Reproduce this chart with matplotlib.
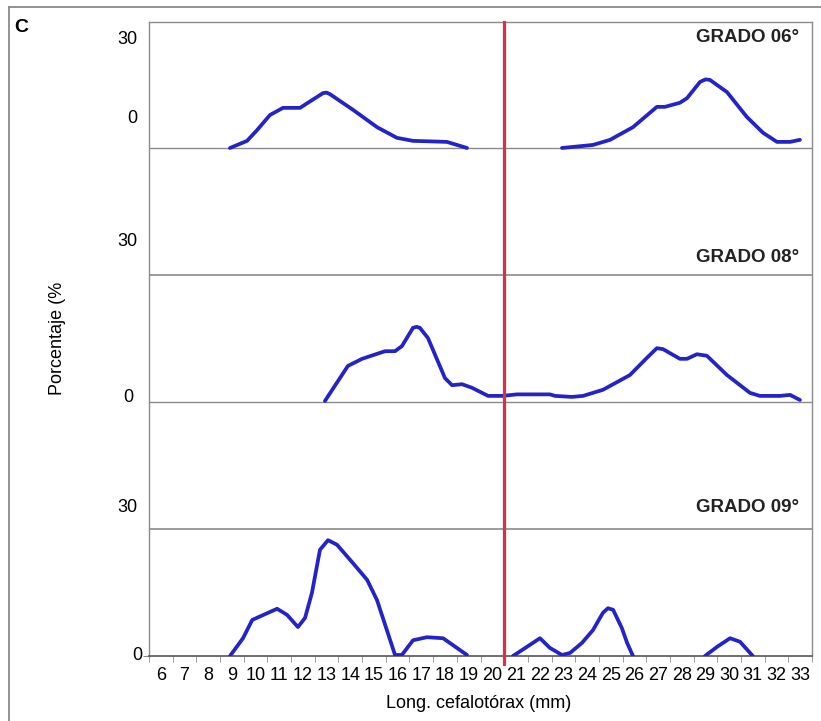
import matplotlib
matplotlib.use('Agg')
import matplotlib.pyplot as plt
import numpy as np

plt.rcParams['font.family'] = ['Liberation Sans', 'DejaVu Sans']

# datos (long. cefalotorax mm, porcentaje %)
nan = np.nan
g06_x = [8.92, 9.64, 10.06, 10.61, 11.16, 11.88, 12.21, 12.85, 13.0, 13.14, 14.12, 15.13, 15.97, 16.65, 17.4, 18.08, 18.93,
         nan,
         22.94, 24.25, 24.97, 25.94, 26.95, 27.29, 27.92, 28.22, 28.77, 29.0, 29.19, 29.91, 30.75, 31.43, 32.02, 32.57, 32.99]
g06_y = [0, 1.4, 3.5, 6.5, 7.9, 7.9, 8.9, 10.8, 10.9, 10.6, 7.5, 4.1, 2.0, 1.4, 1.3, 1.2, 0,
         nan,
         0, 0.6, 1.6, 4.1, 8.1, 8.1, 8.9, 9.8, 13.0, 13.5, 13.4, 11.0, 6.1, 3.0, 1.2, 1.2, 1.6]

g08_x = [12.93, 13.9, 14.5, 15.47, 15.89, 16.18, 16.65, 16.8, 16.94, 17.28, 18.0, 18.3, 18.72, 19.14, 19.82, 20.41,
         21.04, 21.67, 22.43, 22.65, 23.36, 23.83, 24.67, 25.81, 26.53, 26.95, 27.21, 27.92, 28.22, 28.64, 29.06,
         29.91, 30.88, 31.3, 32.15, 32.57, 32.99]
g08_y = [0.2, 7.1, 8.5, 10.0, 10.0, 11.0, 14.6, 14.8, 14.6, 12.6, 4.7, 3.3, 3.5, 2.8, 1.2, 1.2,
         1.5, 1.5, 1.5, 1.2, 1.0, 1.2, 2.4, 5.3, 8.7, 10.6, 10.4, 8.5, 8.5, 9.4, 9.1,
         5.3, 1.8, 1.2, 1.2, 1.4, 0.4]

g09_x = [8.92, 9.47, 9.86, 10.91, 11.33, 11.79, 12.09, 12.38, 12.72, 13.06, 13.44, 14.11, 14.71, 15.13, 15.89,
         16.18, 16.65, 17.24, 17.92, 18.93,
         nan,
         20.87, 21.46, 22.01, 22.43, 22.94, 23.28, 23.79, 24.25, 24.67, 24.88, 25.1, 25.47, 25.69, 25.94,
         nan,
         28.98, 29.49, 30.04, 30.46, 31.0]
g09_y = [0, 3.5, 7.1, 9.3, 8.1, 5.7, 7.5, 12.4, 20.9, 22.8, 21.9, 18.3, 15.0, 11.0, 0.2,
         0.2, 3.1, 3.7, 3.5, 0.2,
         nan,
         0, 1.8, 3.5, 1.6, 0.2, 0.6, 2.6, 5.1, 8.5, 9.4, 9.1, 5.5, 2.6, 0,
         nan,
         0, 1.8, 3.5, 2.8, 0]

series = [('GRADO 06°', g06_x, g06_y, 100), ('GRADO 08°', g08_x, g08_y, 50), ('GRADO 09°', g09_x, g09_y, 0)]
cats = list(range(6, 34))

# etiquetas del eje y (puestas a mano como en el original)
ylab_pos = [121.3, 105.9, 81.5, 50.8, 29.3, 0]
ylab_txt = ['30', '0', '30', '0', '30', '0']
ylab_dx = [-12, -12, -12, -16, -12, -7]
title_y = [121.7, 78.5, 29.3]

W, H = 821, 721
fig = plt.figure(figsize=(W / 100, H / 100), dpi=100)
ax = fig.add_axes([149 / W, 1 - 656 / H, (812 - 149) / W, (656 - 22) / H])

grey = '#8a8a8a'
blue = '#2323c8'

for k, (name, x, y, off) in enumerate(series):
    yy = np.array(y, dtype=float) + off
    ax.plot(x, yy, color=blue, lw=2.7, solid_joinstyle='round', solid_capstyle='round', zorder=3)
    if off > 0:
        ax.axhline(off, color=grey, lw=1, zorder=1)
    ax.text(32.95, title_y[k], name, ha='right', va='center', fontsize=13.5, fontweight='bold',
            color='#222222')

for yd in [25, 75]:
    ax.axhline(yd, color=grey, lw=1.2, zorder=1)

ax.axvline(20.5, ymin=-0.012, ymax=1, color='#dc2d4b', lw=2.3, zorder=4, clip_on=False)

ax.set_xlim(5.5, 33.5)
ax.set_ylim(0, 124.8)
ax.set_xticks(cats)
ax.set_xticklabels([str(c) for c in cats], fontsize=13)
ax.set_xticks(np.arange(5.5, 34, 1), minor=True)
ax.tick_params(axis='x', which='major', length=0, pad=8)
ax.tick_params(axis='x', which='minor', length=4, color=grey, direction='out')
ax.set_yticks([0])
ax.set_yticklabels([''])
ax.tick_params(axis='y', length=4, color=grey)

for s in ['top', 'right', 'left']:
    ax.spines[s].set_color(grey)
    ax.spines[s].set_linewidth(1)
ax.spines['bottom'].set_color('#555555')
ax.spines['bottom'].set_linewidth(1.2)

for yp, t, dx in zip(ylab_pos, ylab_txt, ylab_dx):
    ax.annotate(t, xy=(5.5, yp), xytext=(dx * 0.72, 0), textcoords='offset points',
                ha='right', va='center', fontsize=13, annotation_clip=False)

fig.text(479 / W, 1 - 703 / H, 'Long. cefalotórax (mm)', ha='center', va='center', fontsize=13)
fig.text(58 / W, 1 - 338 / H, 'Porcentaje (%', ha='center', va='center', rotation=90, fontsize=13)
fig.text(14 / W, 1 - 27 / H, 'C', ha='left', va='center', fontsize=14, fontweight='bold')

# marco exterior
fig.add_artist(plt.Line2D([9 / W, 9 / W], [0, 1 - 7 / H], color=grey, lw=1.3))
fig.add_artist(plt.Line2D([9 / W, 1], [1 - 7 / H, 1 - 7 / H], color=grey, lw=1.3))

fig.savefig('out.png', dpi=100)
